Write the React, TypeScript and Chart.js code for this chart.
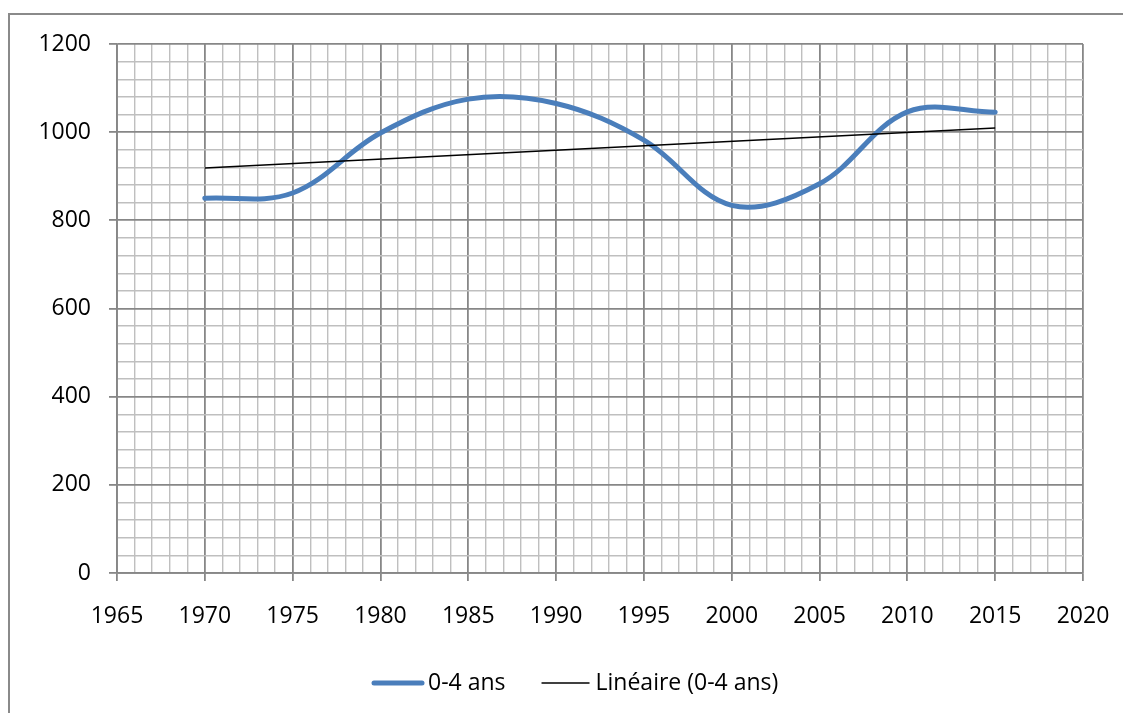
import { useEffect, useRef } from "react";
import { Chart, registerables } from "chart.js";

Chart.register(...registerables);

// ---- data ----
const years = [1970, 1975, 1980, 1985, 1990, 1995, 2000, 2005, 2010, 2015];
const values = [850, 862, 998, 1075, 1065, 982, 834, 883, 1046, 1045];
const seriesLabel = "0-4 ans";
const trendLabel = "Linéaire (0-4 ans)";
const xRange = [1965, 2020];
const yRange = [0, 1200];
const xSteps = [5, 1]; // major, minor
const ySteps = [200, 40]; // major, minor

// linear regression (Excel "Linéaire" trendline)
function regression(xs: number[], ys: number[]) {
  const n = xs.length;
  const mx = xs.reduce((a, b) => a + b, 0) / n;
  const my = ys.reduce((a, b) => a + b, 0) / n;
  let sxy = 0;
  let sxx = 0;
  for (let i = 0; i < n; i++) {
    sxy += (xs[i] - mx) * (ys[i] - my);
    sxx += (xs[i] - mx) * (xs[i] - mx);
  }
  const slope = sxy / sxx;
  return (x: number) => my + slope * (x - mx);
}

const FONT_FAMILY = "'Open Sans', 'Liberation Sans', sans-serif";
const FONT_SIZE = 23;
const MAJOR = "#878787";
const MINOR = "#bfbfbf";
const BLUE = "#4a7ebb";

const legendPlugin = {
  id: "excelLegend",
  afterDraw(chart: any) {
    const ctx = chart.ctx as CanvasRenderingContext2D;
    ctx.save();
    ctx.font = `${FONT_SIZE}px ${FONT_FAMILY}`;
    ctx.textBaseline = "middle";
    ctx.textAlign = "left";
    const y = 683;
    let x = 374;
    const lineLen = 48;
    chart.data.datasets.forEach((ds: any) => {
      ctx.beginPath();
      ctx.strokeStyle = ds.borderColor;
      ctx.lineWidth = ds.borderWidth;
      ctx.lineCap = ds.borderCapStyle || "butt";
      ctx.moveTo(x, y);
      ctx.lineTo(x + lineLen, y);
      ctx.stroke();
      ctx.fillStyle = "#000";
      const tx = x + lineLen + 6;
      ctx.fillText(ds.label, tx, y);
      x = tx + ctx.measureText(ds.label).width + 36;
    });
    ctx.restore();
  },
};

export default function App() {
  const ref = useRef<HTMLCanvasElement>(null);

  useEffect(() => {
    const canvas = ref.current;
    if (!canvas) return;
    const trend = regression(years, values);
    const first = years[0];
    const last = years[years.length - 1];

    const chart = new Chart(canvas, {
      type: "line",
      data: {
        datasets: [
          {
            label: seriesLabel,
            data: years.map((yr, i) => ({ x: yr, y: values[i] })),
            borderColor: BLUE,
            backgroundColor: BLUE,
            borderWidth: 5,
            borderCapStyle: "round",
            borderJoinStyle: "round",
            pointRadius: 0,
            tension: 0.36,
            order: 2,
          },
          {
            label: trendLabel,
            data: [
              { x: first, y: trend(first) },
              { x: last, y: trend(last) },
            ],
            borderColor: "#000000",
            backgroundColor: "#000000",
            borderWidth: 1.5,
            pointRadius: 0,
            tension: 0,
            order: 1,
          },
        ],
      },
      options: {
        responsive: false,
        animation: false,
        layout: { padding: { top: 44, right: 40, bottom: 0, left: 0 } },
        plugins: {
          legend: { display: false },
          tooltip: { enabled: false },
        },
        scales: {
          x: {
            type: "linear",
            min: xRange[0],
            max: xRange[1],
            afterFit: (s: any) => {
              s.height = 140;
              s.paddingLeft = 0;
              s.paddingRight = 0;
            },
            ticks: {
              stepSize: xSteps[1],
              autoSkip: false,
              maxRotation: 0,
              padding: 22,
              color: "#000",
              font: { family: FONT_FAMILY, size: FONT_SIZE },
              callback: (v: any) => (Number(v) % xSteps[0] === 0 ? String(v) : ""),
            },
            grid: {
              color: (c: any) => (c.tick && c.tick.value % xSteps[0] === 0 ? MAJOR : MINOR),
              lineWidth: (c: any) => (c.tick && c.tick.value % xSteps[0] === 0 ? 1.8 : 1.4),
              tickLength: 8,
              tickColor: (c: any) =>
                c.tick && c.tick.value % xSteps[0] === 0 ? MAJOR : "rgba(0,0,0,0)",
              tickWidth: 1.8,
            },
            border: { color: MAJOR, width: 1.8 },
          },
          y: {
            type: "linear",
            min: yRange[0],
            max: yRange[1],
            afterFit: (s: any) => {
              s.width = 117;
              s.paddingTop = 0;
              s.paddingBottom = 0;
            },
            ticks: {
              stepSize: ySteps[1],
              autoSkip: false,
              padding: 18,
              color: "#000",
              font: { family: FONT_FAMILY, size: FONT_SIZE },
              callback: (v: any) => (Number(v) % ySteps[0] === 0 ? String(v) : ""),
            },
            grid: {
              color: (c: any) => (c.tick && c.tick.value % ySteps[0] === 0 ? MAJOR : MINOR),
              lineWidth: (c: any) => (c.tick && c.tick.value % ySteps[0] === 0 ? 1.8 : 1.4),
              tickLength: 8,
              tickColor: (c: any) =>
                c.tick && c.tick.value % ySteps[0] === 0 ? MAJOR : "rgba(0,0,0,0)",
              tickWidth: 1.8,
            },
            border: { color: MAJOR, width: 1.8 },
          },
        },
      },
      plugins: [legendPlugin],
    } as any);

    return () => chart.destroy();
  }, []);

  return (
    <div
      style={{
        position: "fixed",
        left: 0,
        top: 0,
        width: 1123,
        height: 713,
        overflow: "hidden",
        background: "#ffffff",
      }}
    >
      <div
        style={{
          position: "absolute",
          left: 8,
          top: 13,
          width: 1200,
          height: 800,
          border: "2px solid #8a8a8a",
        }}
      />
      <canvas
        ref={ref}
        width={1123}
        height={713}
        style={{ position: "absolute", left: 0, top: 0, width: 1123, height: 713, display: "block" }}
      />
    </div>
  );
}
